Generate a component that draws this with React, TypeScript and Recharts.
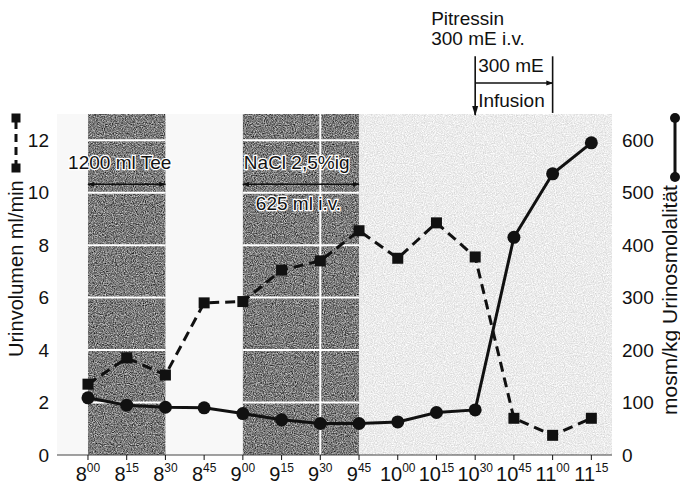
import React from 'react';
import { LineChart, Line, XAxis, YAxis, ReferenceArea, ReferenceLine } from 'recharts';

// Sampling times (every 15 min) and the two measured series
const times = ['8:00', '8:15', '8:30', '8:45', '9:00', '9:15', '9:30', '9:45', '10:00', '10:15', '10:30', '10:45', '11:00', '11:15'];
const urineVolume = [2.7, 3.7, 3.05, 5.8, 5.85, 7.05, 7.4, 8.55, 7.5, 8.85, 7.55, 1.4, 0.75, 1.4]; // ml/min
const osmolality = [109, 95, 91, 90, 79, 67, 60, 60, 63, 81, 86, 415, 536, 595]; // mosm/kg

const volumeTicks = [0, 2, 4, 6, 8, 10, 12];
const osmoTicks = [0, 100, 200, 300, 400, 500, 600];

const teeWindow = ['8:00', '8:30'];
const naclWindow = ['9:00', '9:45'];
const naclSplit = '9:30';
const pitressinAt = '10:30';
const infusionEnd = '11:00';

const INK = '#111';
const FONT = '"Liberation Sans", Arial, Helvetica, sans-serif';

const toMin = (s: string) => {
  const [h, m] = s.split(':').map(Number);
  return (h - 8) * 60 + m;
};

const data = times.map((t, i) => ({ t: toMin(t), vol: urineVolume[i], osm: osmolality[i] }));
const tickMinutes = times.map(toMin);

function TimeTick({ x, y, payload }: any) {
  const m = payload.value;
  const h = 8 + Math.floor(m / 60);
  const mm = String(m % 60).padStart(2, '0');
  return (
    <text x={x} y={y + 19} textAnchor="middle" fontSize={20} fill={INK} fontFamily={FONT}>
      <tspan>{h}</tspan>
      <tspan fontSize={12} dy={-9}>{mm}</tspan>
    </text>
  );
}

function SquareDot({ cx, cy, index }: any) {
  if (cx == null || cy == null) return null;
  return <rect key={`sq-${index}`} x={cx - 5.5} y={cy - 5.5} width={11} height={11} fill={INK} />;
}

function CircleDot({ cx, cy, index }: any) {
  if (cx == null || cy == null) return null;
  return <circle key={`ci-${index}`} cx={cx} cy={cy} r={6.5} fill={INK} />;
}

const haloText = {
  fontFamily: FONT,
  fontSize: 19,
  fill: INK,
  stroke: '#fff',
  strokeWidth: 2.5,
  paintOrder: 'stroke',
} as any;

const plainText = { fontFamily: FONT, fontSize: 19, fill: INK } as any;

// line drawn by a ReferenceLine segment, with optional arrow heads and attached text
function AnnotLine({ x1, y1, x2, y2, start, end, big, children }: any) {
  return (
    <g>
      <line
        x1={x1}
        y1={y1}
        x2={x2}
        y2={y2}
        stroke={INK}
        strokeWidth={1.6}
        markerStart={start ? 'url(#arrowStart)' : undefined}
        markerEnd={end ? (big ? 'url(#arrowBig)' : 'url(#arrowEnd)') : undefined}
      />
      {children ? children({ x1, y1, x2, y2 }) : null}
    </g>
  );
}

export default function App() {
  const [t0, t1] = teeWindow.map(toMin);
  const [n0, n1] = naclWindow.map(toMin);
  const pit = toMin(pitressinAt);
  const inf = toMin(infusionEnd);

  const gridLines: React.ReactNode[] = [];
  [[t0, t1], [n0, n1]].forEach(([a, b], r) => {
    volumeTicks.slice(1).forEach((v) => {
      gridLines.push(
        <ReferenceLine
          key={`g-${r}-${v}`}
          yAxisId="left"
          segment={[{ x: a, y: v }, { x: b, y: v }]}
          stroke="#fff"
          strokeWidth={2}
        />
      );
    });
  });

  return (
    <div style={{ position: 'absolute', left: 0, top: 0, width: 680, height: 488, background: '#fff', fontFamily: FONT }}>
      <LineChart width={680} height={488} data={data} margin={{ top: 114, right: 0, bottom: 0, left: 0 }}>
        <defs>
          <marker id="arrowEnd" viewBox="0 0 10 10" refX="9" refY="5" markerWidth="7" markerHeight="7" orient="auto" markerUnits="userSpaceOnUse">
            <path d="M0,1.5 L10,5 L0,8.5 z" fill={INK} />
          </marker>
          <marker id="arrowBig" viewBox="0 0 10 10" refX="9" refY="5" markerWidth="10" markerHeight="10" orient="auto" markerUnits="userSpaceOnUse">
            <path d="M0,2 L10,5 L0,8 z" fill={INK} />
          </marker>
          <marker id="arrowStart" viewBox="0 0 10 10" refX="1" refY="5" markerWidth="7" markerHeight="7" orient="auto" markerUnits="userSpaceOnUse">
            <path d="M10,1.5 L0,5 L10,8.5 z" fill={INK} />
          </marker>
          <filter id="grainDark" x="0" y="0" width="100%" height="100%" colorInterpolationFilters="sRGB">
            <feTurbulence type="fractalNoise" baseFrequency="0.9" numOctaves="2" seed="4" result="n" />
            <feColorMatrix in="n" type="saturate" values="0" result="g" />
            <feComponentTransfer in="g" result="t">
              <feFuncR type="linear" slope="1.4" intercept="-0.22" />
              <feFuncG type="linear" slope="1.4" intercept="-0.22" />
              <feFuncB type="linear" slope="1.4" intercept="-0.22" />
              <feFuncA type="linear" slope="0" intercept="1" />
            </feComponentTransfer>
            <feComposite in="t" in2="SourceAlpha" operator="in" />
          </filter>
          <filter id="grainLight" x="0" y="0" width="100%" height="100%" colorInterpolationFilters="sRGB">
            <feTurbulence type="fractalNoise" baseFrequency="0.9" numOctaves="2" seed="9" result="n" />
            <feColorMatrix in="n" type="saturate" values="0" result="g" />
            <feComponentTransfer in="g" result="t">
              <feFuncR type="linear" slope="0.35" intercept="0.75" />
              <feFuncG type="linear" slope="0.35" intercept="0.75" />
              <feFuncB type="linear" slope="0.35" intercept="0.75" />
              <feFuncA type="linear" slope="0" intercept="1" />
            </feComponentTransfer>
            <feComposite in="t" in2="SourceAlpha" operator="in" />
          </filter>
        </defs>

        <XAxis
          type="number"
          dataKey="t"
          domain={[-12, 203]}
          ticks={tickMinutes}
          interval={0}
          height={33}
          tick={<TimeTick />}
          tickSize={5}
          tickLine={{ stroke: INK }}
          axisLine={{ stroke: '#444', strokeWidth: 1 }}
          allowDataOverflow
        />
        <YAxis
          yAxisId="left"
          domain={[0, 13]}
          ticks={volumeTicks}
          width={57}
          axisLine={false}
          tickLine={false}
          tick={{ fill: INK, fontSize: 19, fontFamily: FONT }}
          allowDataOverflow
        />
        <YAxis
          yAxisId="right"
          orientation="right"
          domain={[0, 650]}
          ticks={osmoTicks}
          width={68}
          axisLine={false}
          tickLine={false}
          tickMargin={4}
          tick={{ fill: INK, fontSize: 19, fontFamily: FONT, textAnchor: 'start' }}
          allowDataOverflow
        />

        {/* speckled background */}
        <ReferenceArea yAxisId="left" x1={-12} x2={203} y1={0} y2={13} fill="#f8f8f8" fillOpacity={1} stroke="none" />
        <ReferenceArea yAxisId="left" x1={n1} x2={203} y1={0} y2={13} fill="#ececec" fillOpacity={1} stroke="none" filter="url(#grainLight)" />
        <ReferenceArea yAxisId="left" x1={t0} x2={t1} y1={0} y2={13} fill="#6f6f6f" fillOpacity={1} stroke="none" filter="url(#grainDark)" />
        <ReferenceArea yAxisId="left" x1={n0} x2={n1} y1={0} y2={13} fill="#6a6a6a" fillOpacity={1} stroke="none" filter="url(#grainDark)" />
        {gridLines}
        <ReferenceLine
          yAxisId="left"
          segment={[{ x: toMin(naclSplit), y: 0 }, { x: toMin(naclSplit), y: 13 }]}
          stroke="#fff"
          strokeWidth={2}
        />

        {/* intake annotations */}
        <ReferenceLine
          yAxisId="left"
          segment={[{ x: t0, y: 10.32 }, { x: t1, y: 10.32 }]}
          ifOverflow="visible"
          shape={(p: any) => (
            <AnnotLine {...p} start end>
              {({ x1, x2, y1 }: any) => (
                <text x={(x1 + x2) / 2 - 7} y={y1 - 15} textAnchor="middle" {...haloText}>1200 ml Tee</text>
              )}
            </AnnotLine>
          )}
        />
        <ReferenceLine
          yAxisId="left"
          segment={[{ x: n0, y: 10.32 }, { x: n1, y: 10.32 }]}
          ifOverflow="visible"
          shape={(p: any) => (
            <AnnotLine {...p} start end>
              {({ x1, y1 }: any) => (
                <g>
                  <text x={x1 + 1} y={y1 - 15} {...haloText}>NaCl 2,5%ig</text>
                  <text x={x1 + 13} y={y1 + 26} {...haloText}>625 ml i.v.</text>
                </g>
              )}
            </AnnotLine>
          )}
        />

        {/* Pitressin annotations above the plot */}
        <ReferenceLine
          yAxisId="left"
          segment={[{ x: pit, y: 15.2 }, { x: pit, y: 12.96 }]}
          ifOverflow="visible"
          shape={(p: any) => (
            <AnnotLine {...p} end big>
              {({ x1, y1 }: any) => (
                <g>
                  <text x={x1 - 44} y={y1 - 31} {...plainText}>Pitressin</text>
                  <text x={x1 - 44} y={y1 - 11} {...plainText}>300 mE i.v.</text>
                  <text x={x1 + 3} y={y1 + 16} {...plainText}>300 mE</text>
                  <text x={x1 + 3} y={y1 + 51} {...plainText}>Infusion</text>
                </g>
              )}
            </AnnotLine>
          )}
        />
        <ReferenceLine
          yAxisId="left"
          segment={[{ x: inf, y: 15.2 }, { x: inf, y: 13.04 }]}
          ifOverflow="visible"
          shape={(p: any) => <AnnotLine {...p} />}
        />
        <ReferenceLine
          yAxisId="left"
          segment={[{ x: pit, y: 14.18 }, { x: inf, y: 14.18 }]}
          ifOverflow="visible"
          shape={(p: any) => <AnnotLine {...p} end />}
        />

        <Line
          yAxisId="left"
          dataKey="vol"
          stroke={INK}
          strokeWidth={3}
          strokeDasharray="10 6"
          dot={(p: any) => <SquareDot {...p} />}
          activeDot={false}
          isAnimationActive={false}
        />
        <Line
          yAxisId="right"
          dataKey="osm"
          stroke={INK}
          strokeWidth={3}
          dot={(p: any) => <CircleDot {...p} />}
          activeDot={false}
          isAnimationActive={false}
        />

        {/* axis titles with their series symbols */}
        <g>
          <text transform="rotate(-90 23 357)" x={23} y={357} fontSize={20} fill={INK} fontFamily={FONT}>
            Urinvolumen ml/min
          </text>
          <line x1={16} y1={168} x2={16} y2={118} stroke={INK} strokeWidth={3} strokeDasharray="8 5" />
          <rect x={11.5} y={113.5} width={9} height={9} fill={INK} />
          <rect x={11.5} y={163.5} width={9} height={9} fill={INK} />
        </g>
        <g>
          <text transform="rotate(-90 677 415)" x={677} y={415} fontSize={21} fill={INK} fontFamily={FONT}>
            mosm/kg Urinosmolalität
          </text>
          <line x1={675} y1={118} x2={675} y2={177} stroke={INK} strokeWidth={3} />
          <circle cx={675} cy={118} r={5} fill={INK} />
          <circle cx={675} cy={177} r={5} fill={INK} />
        </g>
      </LineChart>
    </div>
  );
}
